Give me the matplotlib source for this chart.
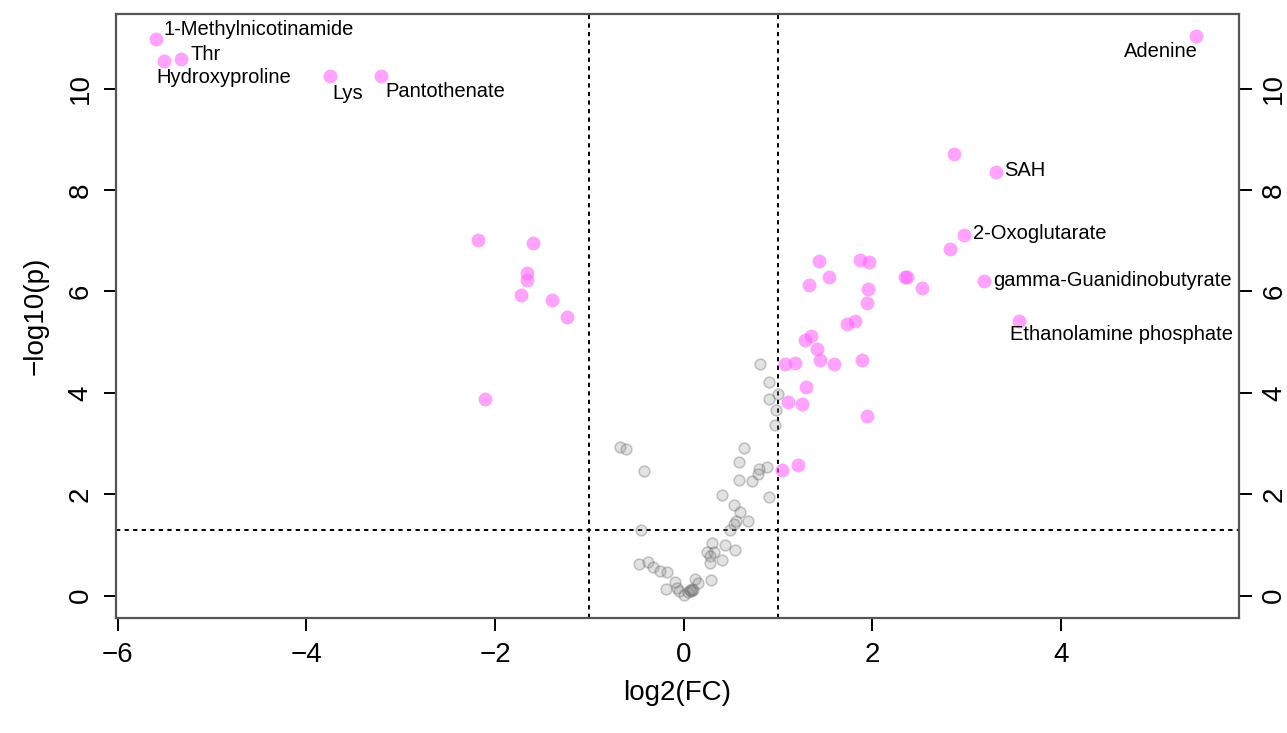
import matplotlib
matplotlib.use("Agg")
import matplotlib.pyplot as plt
import numpy as np

plt.rcParams["font.family"] = ["Liberation Sans", "DejaVu Sans"]

# labelled significant metabolites: name, log2(FC), -log10(p)
lab_names = ["1-Methylnicotinamide", "Thr", "Hydroxyproline", "Lys", "Pantothenate",
             "Adenine", "SAH", "2-Oxoglutarate", "gamma-Guanidinobutyrate",
             "Ethanolamine phosphate"]
lab_fc = [-5.60, -5.33, -5.51, -3.75, -3.21, 5.43, 3.31, 2.97, 3.19, 3.56]
lab_p = [10.97, 10.59, 10.55, 10.24, 10.24, 11.03, 8.36, 7.12, 6.21, 5.42]

# other significant metabolites
sig_fc = [-2.18, -1.60, -1.66, -1.66, -1.73, -1.40, -1.24, -2.11,
          2.87, 2.82, 1.44, 1.87, 1.97, 1.54, 1.33, 2.35, 2.37, 2.53, 1.96, 1.94,
          1.73, 1.82, 1.35, 1.29, 1.41, 1.45, 1.89, 1.07, 1.18, 1.60, 1.30,
          1.11, 1.26, 1.95, 1.21, 1.04]
sig_p = [7.02, 6.96, 6.37, 6.23, 5.92, 5.84, 5.50, 3.87,
         8.70, 6.84, 6.59, 6.61, 6.58, 6.29, 6.12, 6.28, 6.28, 6.06, 6.05, 5.77,
         5.36, 5.42, 5.12, 5.04, 4.86, 4.65, 4.64, 4.57, 4.58, 4.56, 4.11,
         3.81, 3.77, 3.55, 2.58, 2.47]

# non-significant metabolites
ns_fc = [0.81, 0.91, 1.00, 0.91, 0.98, 0.97, 0.88, 0.80, 0.79,
         -0.68, -0.61, -0.42, 0.64, 0.59, 0.59, 0.72, 0.91, 0.41, 0.53, 0.60,
         0.68, 0.56, 0.53, 0.49, -0.45, 0.30, 0.44, 0.25, 0.32, 0.54, 0.28,
         0.41, 0.28, -0.47, -0.38, -0.32, -0.25, -0.18, -0.09, -0.19, -0.07,
         -0.05, 0.00, 0.05, 0.08, 0.10, 0.12, 0.15, 0.29, 0.07, 0.09]
ns_p = [4.57, 4.21, 3.98, 3.88, 3.67, 3.37, 2.54, 2.50, 2.39,
        2.94, 2.89, 2.45, 2.92, 2.64, 2.29, 2.27, 1.94, 1.98, 1.79, 1.66,
        1.48, 1.48, 1.41, 1.30, 1.30, 1.04, 0.99, 0.87, 0.87, 0.91, 0.78,
        0.70, 0.65, 0.63, 0.66, 0.57, 0.49, 0.47, 0.27, 0.13, 0.15,
        0.10, 0.01, 0.08, 0.10, 0.12, 0.32, 0.25, 0.30, 0.12, 0.14]

# label offsets in pixels (dx, dy) and alignment
lab_off = [(8, 10), (9, 4), (-8, -17), (2, -17), (4, -15),
           (2, -15), (8, 1), (9, 1), (9, 0), (-9, -14)]
lab_ha = ["left"] * 5 + ["right"] + ["left"] * 4

fc_thr = 1.0
p_thr = -np.log10(0.05)

fig = plt.figure(figsize=(12.87, 7.33), dpi=100)
ax = fig.add_axes([116 / 1287, 1 - 618 / 733, (1239 - 116) / 1287, (618 - 14) / 733])

ax.scatter(ns_fc, ns_p, s=60, facecolor=(0.55, 0.55, 0.55, 0.25),
           edgecolor=(0.35, 0.35, 0.35, 0.3), linewidth=1.2, zorder=2)
ax.scatter(sig_fc + lab_fc, sig_p + lab_p, s=100, color="#ff66ff", alpha=0.6,
           linewidth=0, zorder=3)

for name, x, y, off, ha in zip(lab_names, lab_fc, lab_p, lab_off, lab_ha):
    ax.annotate(name, (x, y), xytext=off, textcoords="offset pixels",
                ha=ha, va="center", fontsize=14.5, zorder=4)

ls = (0, (2.2, 2.2))
ax.axvline(-fc_thr, color="black", lw=1.4, ls=ls, zorder=1)
ax.axvline(fc_thr, color="black", lw=1.4, ls=ls, zorder=1)
ax.axhline(p_thr, color="black", lw=1.4, ls=ls, zorder=1)

ax.set_xlim(-6.02, 5.89)
ax.set_ylim(-0.44, 11.47)
ax.set_xticks([-6, -4, -2, 0, 2, 4])
ax.set_xticklabels(["\u22126", "\u22124", "\u22122", "0", "2", "4"])
ax.set_yticks([0, 2, 4, 6, 8, 10])
ax.tick_params(axis="both", length=9, width=1.4, labelsize=20, pad=8,
               direction="out", colors="black")
ax.tick_params(axis="y", right=True, labelright=True, pad=7)
for t in ax.yaxis.get_major_ticks():
    t.label1.set_rotation(90)
    t.label1.set_va("center")
    t.label2.set_rotation(90)
    t.label2.set_va("center")
for sp in ax.spines.values():
    sp.set_color("#555555")
    sp.set_linewidth(1.6)

ax.set_xlabel("log2(FC)", fontsize=20, labelpad=9)
ax.set_ylabel("\u2212log10(p)", fontsize=20, labelpad=14)

fig.savefig("out.png", dpi=100)
